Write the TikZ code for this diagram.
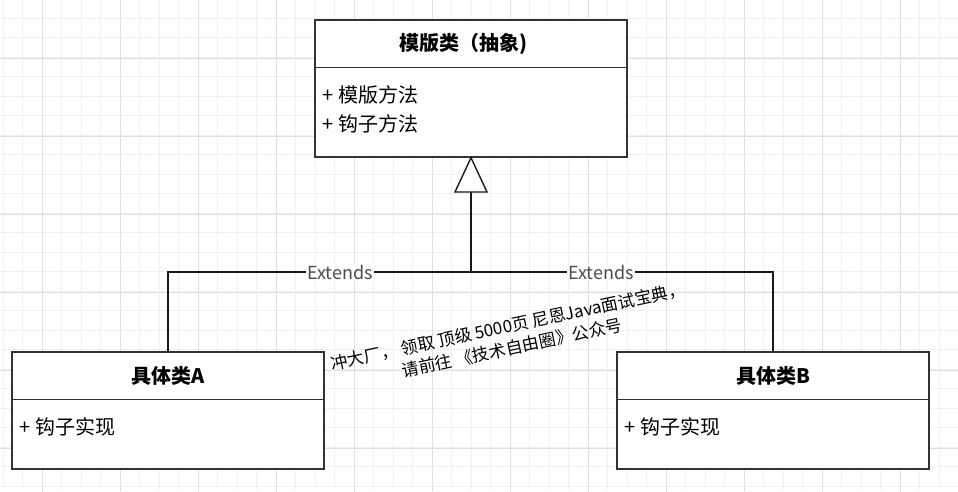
\documentclass[tikz,border=0pt]{standalone}
\usepackage{fontspec}
\setmainfont{Noto Sans CJK SC}
\usetikzlibrary{positioning}
\tikzset{
  classbox/.style={draw=black!80, line width=1.4pt, fill=white, minimum width=312pt, inner sep=0pt},
  member/.style={anchor=west, inner sep=0pt, font=\fontsize{20}{22}\selectfont},
  extlabel/.style={fill=white, inner sep=1pt, text=black!70, font=\fontsize{18}{20}\selectfont}
}
\begin{document}
\begin{tikzpicture}[x=1pt,y=-1pt]
    \useasboundingbox (0,0) rectangle (958,491);
    % grid
    \draw[step=19.5pt, gray!12, very thin, shift={(3,-1.5)}] (-3,1.5) grid (958,491);
    \draw[step=78pt, gray!25, very thin, shift={(42,58)}] (-42,-58) grid (916,433);
    % classes
    \node[classbox, minimum height=137pt] (tpl) at (471,88.5) {};
    \node[classbox, minimum height=117pt] (clsA) at (168,410.5) {};
    \node[classbox, minimum height=117pt] (clsB) at (773,410.5) {};
    \draw[black!80, line width=1.4pt] ([yshift=-48pt]tpl.north west) -- ([yshift=-48pt]tpl.north east);
    \draw[black!80, line width=1.4pt] ([yshift=-48pt]clsA.north west) -- ([yshift=-48pt]clsA.north east);
    \draw[black!80, line width=1.4pt] ([yshift=-48pt]clsB.north west) -- ([yshift=-48pt]clsB.north east);
    \node[font=\fontsize{20}{22}\selectfont\bfseries] (tplname) at (463,44) {模版类（抽象)};
    \node[font=\fontsize{20}{22}\selectfont\bfseries] (clsAname) at (168,376) {具体类A};
    \node[font=\fontsize{20}{22}\selectfont\bfseries] (clsBname) at (773,376) {具体类B};
    \node[member] (tplm1) at (322,95) {+\hspace{5pt}模版方法};
    \node[member] (tplm2) at (322,124) {+\hspace{5pt}钩子方法};
    \node[member] (clsAm) at (19,427) {+\hspace{5pt}钩子实现};
    \node[member] (clsBm) at (624,427) {+\hspace{5pt}钩子实现};
    % inheritance
    \coordinate (tri) at (471,192);
    \coordinate (joint) at (471,272);
    \draw[black!90, line width=1.4pt] (tri) -- (joint);
    \draw[black!90, line width=1.4pt] (clsA.north) |- (joint) -| (clsB.north);
    \node[extlabel] (extA) at (340,272) {Extends};
    \node[extlabel] (extB) at (601,272) {Extends};
    \draw[black!90, line width=1.4pt, fill=white] (tpl.south) -- (455,192) -- (487,192) -- cycle;
    % watermark
    \node[rotate=12, align=center, inner sep=0pt, font=\fontsize{17}{22}\selectfont] (mark) at (510,337)
        {冲大厂， 领取 顶级  5000页 尼恩Java面试宝典，\\请前往 《技术自由圈》公众号};
\end{tikzpicture}
\end{document}
